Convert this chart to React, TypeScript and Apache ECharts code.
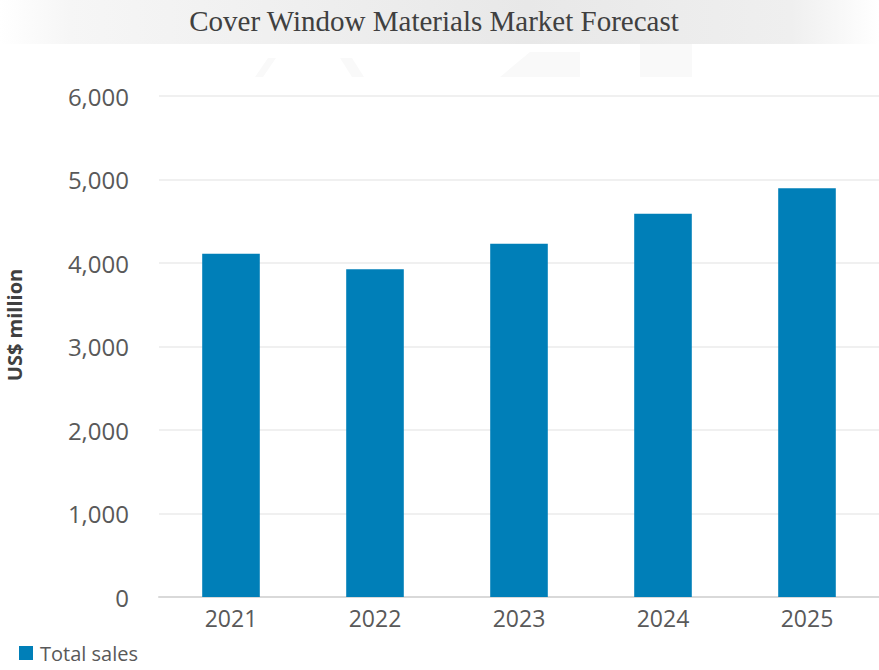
import React, { useEffect, useRef } from "react";
import * as echarts from "echarts";

const categories = ["2021", "2022", "2023", "2024", "2025"];
const totalSales = [4110, 3925, 4230, 4590, 4895];
const yTicks = { min: 0, max: 6000, interval: 1000 };
const titleText = "Cover Window Materials Market Forecast";
const seriesName = "Total sales";
const yName = "US$ million";

export default function App() {
  const ref = useRef<HTMLDivElement>(null);
  useEffect(() => {
    document.body.style.margin = "0";
    const chart = echarts.init(ref.current!, null, { renderer: "svg" });
    chart.setOption({
      animation: false,
      backgroundColor: "#ffffff",
      graphic: [
        {
          type: "rect",
          left: 0,
          top: 0,
          z: -10,
          shape: { width: 879, height: 44 },
          style: {
            fill: new echarts.graphic.LinearGradient(0, 0, 1, 0, [
              { offset: 0, color: "#ffffff" },
              { offset: 0.08, color: "#f6f6f6" },
              { offset: 0.6, color: "#e8e8e8" },
              { offset: 0.9, color: "#efefef" },
              { offset: 1, color: "#ffffff" },
            ]),
          },
        },
        {
          type: "polygon",
          z: -10,
          shape: { points: [[255, 77], [268, 58], [276, 58], [263, 77]] },
          style: { fill: "#f9f9f9" },
        },
        {
          type: "polygon",
          z: -10,
          shape: { points: [[340, 58], [352, 58], [364, 77], [352, 77]] },
          style: { fill: "#f9f9f9" },
        },
        {
          type: "polygon",
          z: -10,
          shape: { points: [[500, 77], [530, 52], [580, 52], [580, 77]] },
          style: { fill: "#f9f9f9" },
        },
        {
          type: "rect",
          z: -10,
          shape: { x: 640, y: 44, width: 52, height: 33 },
          style: { fill: "#f9f9f9" },
        },
        {
          type: "text",
          x: 14,
          y: 325,
          rotation: Math.PI / 2,
          style: {
            text: yName,
            align: "center",
            verticalAlign: "middle",
            fontFamily: "Open Sans, sans-serif",
            fontSize: 20,
            fontWeight: "bold",
            fill: "#404040",
          },
        },
      ],
      title: {
        text: titleText,
        left: 429,
        textAlign: "center",
        top: 1,
        textStyle: {
          fontFamily: "Liberation Serif, Times New Roman, serif",
          fontSize: 29,
          fontWeight: "normal",
          color: "#404040",
        },
      },
      legend: {
        left: 19,
        top: 643,
        padding: 0,
        itemWidth: 14,
        itemHeight: 14,
        itemGap: 6,
        icon: "rect",
        textStyle: {
          fontFamily: "Open Sans, sans-serif",
          fontSize: 20,
          color: "#595959",
          padding: [0, 0, 0, 2],
        },
        data: [seriesName],
      },
      grid: { left: 159, right: 0, top: 96, bottom: 73, containLabel: false },
      xAxis: {
        type: "category",
        data: categories,
        axisTick: { show: false },
        axisLine: { lineStyle: { color: "#d9d9d9", width: 2 } },
        axisLabel: {
          fontFamily: "Open Sans, sans-serif",
          fontSize: 23,
          color: "#595959",
          margin: 9,
        },
      },
      yAxis: {
        type: "value",
        min: yTicks.min,
        max: yTicks.max,
        interval: yTicks.interval,
        axisLine: { show: false },
        axisTick: { show: false },
        splitLine: { lineStyle: { color: "#f0f0f0", width: 2 } },
        axisLabel: {
          fontFamily: "Open Sans, sans-serif",
          fontSize: 24,
          color: "#595959",
          margin: 30,
          formatter: (v: number) => v.toLocaleString("en-US"),
        },
      },
      series: [
        {
          name: seriesName,
          type: "bar",
          data: totalSales,
          barWidth: "40%",
          itemStyle: { color: "#007FB8" },
        },
      ],
    });
    return () => chart.dispose();
  }, []);
  return <div ref={ref} style={{ width: 879, height: 670 }} />;
}
